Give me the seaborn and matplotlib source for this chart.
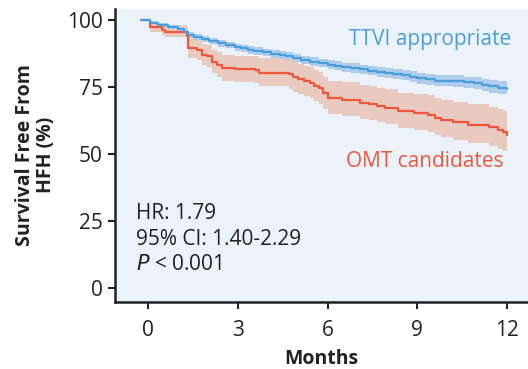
import numpy as np
import pandas as pd
import matplotlib
matplotlib.use("Agg")
import matplotlib.pyplot as plt
import seaborn as sns

# TTVI appropriate (Kaplan-Meier steps)
t_ttvi = [-0.25, 0.07, 0.33, 0.67, 1.0, 1.2, 1.34, 1.55, 1.8, 2.05, 2.34, 2.6, 2.9, 3.1, 3.34,
          3.55, 3.84, 4.1, 4.4, 4.6, 4.85, 5.1, 5.4, 5.7, 6.0, 6.25, 6.5, 6.8, 7.1, 7.35,
          7.65, 7.92, 8.2, 8.5, 8.75, 9.0, 9.3, 9.6, 9.9, 10.2, 10.55, 10.9, 11.15, 11.4, 11.7, 12.0]
s_ttvi = [100, 99.2, 98.3, 97.7, 96.7, 95.8, 94.6, 93.8, 93.0, 92.3, 91.5, 90.8, 90.0, 89.5, 89.0,
          88.5, 88.0, 87.6, 87.1, 86.5, 85.9, 85.2, 84.6, 84.0, 83.4, 83.0, 82.5, 82.1, 81.7, 81.2,
          80.8, 80.2, 79.9, 79.6, 79.0, 78.4, 78.0, 77.5, 77.4, 77.2, 76.8, 76.5, 75.9, 75.3, 74.8, 74.3]
lo_ttvi = [100, 98.7, 97.7, 96.9, 95.8, 94.8, 93.5, 92.6, 91.8, 91.1, 90.2, 89.5, 88.7, 88.1, 87.6,
           87.1, 86.5, 86.1, 85.6, 85.0, 84.3, 83.6, 83.0, 82.4, 81.7, 81.3, 80.8, 80.3, 79.9, 79.4,
           78.9, 78.3, 78.0, 77.6, 77.0, 76.4, 75.9, 75.4, 75.3, 75.0, 74.6, 74.2, 73.6, 72.9, 72.4, 71.9]
hi_ttvi = [100, 99.7, 98.9, 98.4, 97.5, 96.7, 95.6, 94.9, 94.1, 93.5, 92.7, 92.0, 91.3, 90.8, 90.3,
           89.9, 89.4, 89.0, 88.6, 88.0, 87.4, 86.8, 86.2, 85.6, 85.1, 84.7, 84.2, 83.9, 83.5, 83.0,
           82.7, 82.1, 81.8, 81.6, 81.0, 80.4, 80.1, 79.6, 79.5, 79.4, 79.0, 78.8, 78.2, 77.7, 77.3, 76.9]

# OMT candidates
t_omt = [-0.25, 0.07, 0.47, 0.57, 1.3, 1.34, 1.64, 1.8, 1.97, 2.14, 2.3, 2.47, 2.9, 3.58, 3.7,
         4.7, 4.85, 5.0, 5.2, 5.4, 5.55, 5.7, 5.85, 6.0, 6.5, 7.1, 7.4, 7.65, 7.92, 8.36,
         8.9, 9.36, 9.6, 9.8, 10.2, 10.7, 11.4, 11.7, 11.85, 12.0]
s_omt = [100, 97.5, 96.4, 95.8, 94.0, 89.6, 89.0, 87.1, 86.5, 84.6, 83.3, 82.1, 81.7, 81.3, 80.5,
         79.8, 78.8, 78.0, 77.2, 76.5, 75.6, 74.7, 72.8, 70.9, 70.3, 69.3, 68.7, 68.0, 67.3, 66.0,
         65.3, 64.7, 63.6, 62.8, 62.0, 60.9, 60.0, 59.0, 58.2, 57.2]
lo_omt = [100, 95.8, 94.4, 93.6, 91.2, 86.0, 85.2, 83.2, 82.4, 80.3, 78.9, 77.5, 77.0, 76.5, 75.3,
          74.5, 73.4, 72.5, 71.6, 70.8, 69.8, 68.8, 66.8, 64.9, 64.2, 63.3, 62.6, 61.9, 61.1, 59.8,
          58.9, 58.3, 57.1, 56.3, 55.4, 54.2, 53.2, 52.1, 51.3, 50.2]
hi_omt = [100, 99.0, 98.6, 98.3, 97.5, 93.3, 92.8, 91.2, 90.7, 89.0, 88.0, 87.0, 86.7, 86.5, 85.9,
          85.3, 84.4, 83.7, 83.0, 82.4, 81.6, 80.8, 79.0, 77.5, 76.9, 75.9, 75.4, 74.8, 74.3, 73.0,
          72.5, 72.0, 71.0, 70.3, 69.6, 68.6, 67.8, 66.9, 66.2, 65.3]

blue, blue_band = "#4a9fdb", "#a9c9ea"
red, red_band = "#f0563c", "#e8c8bc"
ink = "#222222"

sns.set_style("white")
plt.rcParams["font.family"] = ["Open Sans", "DejaVu Sans"]

fig = plt.figure(figsize=(5.28, 3.69), dpi=100)
ax = fig.add_axes([0.218, 0.182, 0.782, 0.794])
ax.set_facecolor("#ebf2fa")

ax.fill_between(t_omt, lo_omt, hi_omt, step="post", color=red_band, lw=0, alpha=0.95)
ax.fill_between(t_ttvi, lo_ttvi, hi_ttvi, step="post", color=blue_band, lw=0, alpha=0.9)

df_ttvi = pd.DataFrame({"t": t_ttvi, "s": s_ttvi})
df_omt = pd.DataFrame({"t": t_omt, "s": s_omt})
sns.lineplot(data=df_omt, x="t", y="s", ax=ax, color=red, lw=1.6, drawstyle="steps-post")
sns.lineplot(data=df_ttvi, x="t", y="s", ax=ax, color=blue, lw=1.6, drawstyle="steps-post")

ax.set_xlim(-1.1, 12.7)
ax.set_ylim(-5.2, 104.3)
ax.set_xticks([0, 3, 6, 9, 12])
ax.set_yticks([0, 25, 50, 75, 100])
ax.tick_params(axis="both", labelsize=15, length=5, width=1.5, color=ink,
               labelcolor=ink, direction="out", bottom=True, left=True)
ax.tick_params(axis="x", pad=8)
ax.tick_params(axis="y", pad=4)
for side in ["top", "right"]:
    ax.spines[side].set_visible(False)
for side in ["left", "bottom"]:
    ax.spines[side].set_linewidth(1.8)
    ax.spines[side].set_color(ink)

ax.set_xlabel("Months", fontsize=14, fontweight="bold", color=ink, labelpad=6)
ax.set_ylabel("Survival Free From\nHFH (%)", fontsize=14, fontweight="bold",
              color=ink, labelpad=8, linespacing=1.05)

ax.text(9.43, 92.7, "TTVI appropriate", color=blue, fontsize=15, ha="center", va="center")
ax.text(9.26, 47.1, "OMT candidates", color=red, fontsize=15, ha="center", va="center")

ax.text(-0.4, 28, "HR: 1.79", fontsize=15, color=ink, va="center")
ax.text(-0.4, 18, "95% CI: 1.40-2.29", fontsize=15, color=ink, va="center")
ax.text(-0.4, 8.6, r"$\it{P}$ < 0.001", fontsize=15, color=ink, va="center")

fig.savefig("out.png", dpi=100)
